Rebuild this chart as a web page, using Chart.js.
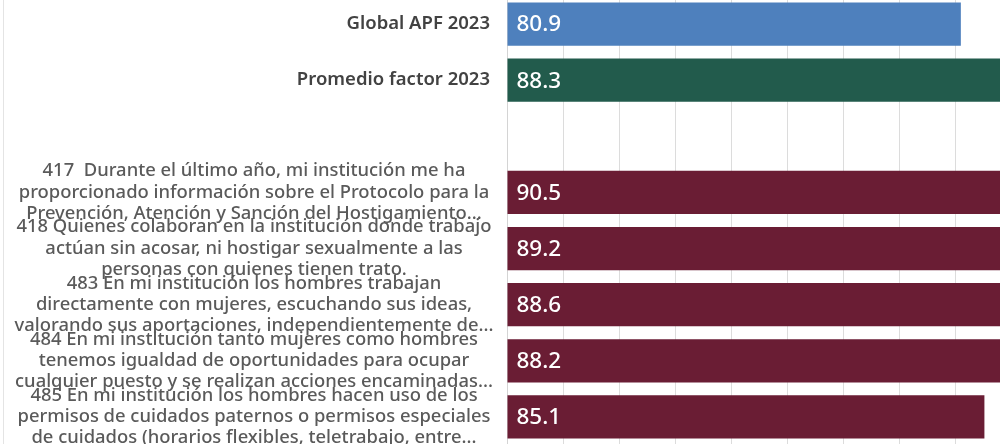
<!DOCTYPE html>
<html><head><meta charset="utf-8">
<script src="https://cdn.jsdelivr.net/npm/chart.js@4"></script>
<style>
html,body{margin:0;padding:0;background:#fff;}
#wrap{position:relative;width:1000px;height:444px;overflow:hidden;background:#fff;}
#edge{position:absolute;left:3px;top:0;width:1px;height:444px;background:#e4e4e4;}
#c{position:absolute;left:0;top:-4px;width:1068px;height:449px;}
</style></head><body>
<div id="wrap"><div id="edge"></div><canvas id="c" width="1068" height="449"></canvas></div>
<script>
const categories = [
  ["Global APF 2023"],
  ["Promedio factor 2023"],
  [""],
  ["417  Durante el último año, mi institución me ha", "proporcionado información sobre el Protocolo para la", "Prevención, Atención y Sanción del Hostigamiento..."],
  ["418 Quienes colaboran en la institución donde trabajo", "actúan sin acosar, ni hostigar sexualmente a las", "personas con quienes tienen trato."],
  ["483 En mi institución los hombres trabajan", "directamente con mujeres, escuchando sus ideas,", "valorando sus aportaciones, independientemente de..."],
  ["484 En mi institución tanto mujeres como hombres", "tenemos igualdad de oportunidades para ocupar", "cualquier puesto y se realizan acciones encaminadas..."],
  ["485 En mi institución los hombres hacen uso de los", "permisos de cuidados paternos o permisos especiales", "de cuidados (horarios flexibles, teletrabajo, entre..."]
];
const values = [80.9, 88.3, null, 90.5, 89.2, 88.6, 88.2, 85.1];
const barColors = ["#4e80bd", "#225b4c", "#6a1d34", "#6a1d34", "#6a1d34", "#6a1d34", "#6a1d34", "#6a1d34"];
const axisMin = 0, axisMax = 100, axisStep = 10;

const labelPlugin = {
  id: 'labels',
  afterDatasetsDraw(chart) {
    const ctx = chart.ctx;
    const ys = chart.scales.y;
    ctx.save();
    categories.forEach((lines, i) => {
      const cy = ys.getPixelForValue(i);
      if (lines.length === 1) {
        if (!lines[0]) return;
        ctx.font = '600 18.5px "Noto Sans"';
        ctx.fillStyle = '#424242';
        ctx.textAlign = 'right';
        ctx.textBaseline = 'middle';
        ctx.fillText(lines[0], 490, cy);
      } else {
        ctx.font = '500 18.4px "Noto Sans"';
        ctx.fillStyle = '#5a5a5a';
        ctx.textAlign = 'center';
        ctx.textBaseline = 'middle';
        const lh = 21.3;
        lines.forEach((t, k) => {
          ctx.fillText(t, 254, cy + (k - (lines.length - 1) / 2) * lh);
        });
      }
    });
    const meta = chart.getDatasetMeta(0);
    ctx.font = '500 22.5px "Noto Sans"';
    ctx.fillStyle = '#ffffff';
    ctx.textAlign = 'left';
    ctx.textBaseline = 'middle';
    meta.data.forEach((bar, i) => {
      if (values[i] == null) return;
      ctx.fillText(values[i].toFixed(1), bar.base + 9, bar.y + 1);
    });
    ctx.restore();
  }
};

new Chart(document.getElementById('c'), {
  type: 'bar',
  data: {
    labels: categories.map(l => l.join(' ')),
    datasets: [{
      data: values,
      backgroundColor: barColors,
      borderWidth: 0,
      barPercentage: 0.772,
      categoryPercentage: 1
    }]
  },
  options: {
    indexAxis: 'y',
    responsive: false,
    animation: false,
    devicePixelRatio: 1,
    layout: { padding: 0 },
    plugins: { legend: { display: false }, tooltip: { enabled: false } },
    scales: {
      x: {
        min: axisMin, max: axisMax,
        ticks: { display: false, stepSize: axisStep },
        grid: { color: '#dcdcdc', lineWidth: 1, drawTicks: false },
        border: { display: false }
      },
      y: {
        ticks: { display: false },
        grid: { display: false, drawTicks: false },
        border: { display: true, color: '#d4d4d4', width: 1 },
        afterFit(scale) { scale.width = 507; }
      }
    }
  },
  plugins: [labelPlugin]
});
</script>
</body></html>
